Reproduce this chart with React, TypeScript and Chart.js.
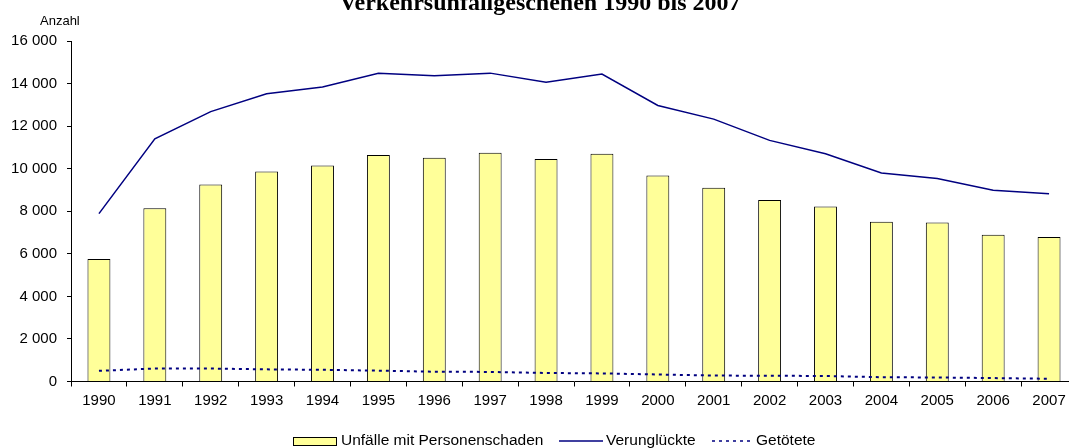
import React, { useEffect, useRef } from "react";
import { Chart, registerables } from "chart.js";

Chart.register(...registerables);

const years = ["1990", "1991", "1992", "1993", "1994", "1995", "1996", "1997", "1998", "1999", "2000", "2001", "2002", "2003", "2004", "2005", "2006", "2007"];
const unfaelle = [5760, 8140, 9260, 9870, 10150, 10640, 10510, 10750, 10460, 10700, 9680, 9100, 8530, 8220, 7510, 7470, 6900, 6790];
const verunglueckte = [7890, 11400, 12680, 13520, 13840, 14480, 14370, 14490, 14060, 14450, 12970, 12330, 11330, 10700, 9800, 9540, 8990, 8820];
const getoetete = [500, 610, 610, 570, 550, 510, 460, 450, 400, 380, 330, 280, 270, 260, 200, 190, 160, 130];

const titleText = "Verkehrsunfallgeschehen 1990 bis 2007";
const yAxisTitle = "Anzahl";
const legendLabels = ["Unfälle mit Personenschaden", "Verunglückte", "Getötete"];

const SANS = "'Liberation Sans', Arial, sans-serif";
const SERIF = "'Liberation Serif', 'Times New Roman', serif";

const fmt = (v: number) => String(v).replace(/\B(?=(\d{3})+(?!\d))/g, " ");

const textPlugin = {
  id: "extraText",
  afterDraw(chart: any) {
    const ctx = chart.ctx as CanvasRenderingContext2D;
    ctx.save();
    // Title (partly cut at top)
    ctx.fillStyle = "#000";
    ctx.font = `bold 24px ${SERIF}`;
    ctx.textAlign = "center";
    ctx.textBaseline = "alphabetic";
    ctx.fillText(titleText, 540, 10);
    // Axis title
    ctx.font = `13px ${SANS}`;
    ctx.textAlign = "left";
    ctx.textBaseline = "middle";
    ctx.fillText(yAxisTitle, 40, 21);
    // Legend
    const ly = 441;
    ctx.font = `15.5px ${SANS}`;
    ctx.textBaseline = "middle";
    // bar key
    ctx.fillStyle = "#FFFF99";
    ctx.fillRect(293.5, 437.5, 43, 8);
    ctx.strokeStyle = "#000";
    ctx.lineWidth = 1;
    ctx.strokeRect(293.5, 437.5, 43, 8);
    ctx.fillStyle = "#000";
    ctx.fillText(legendLabels[0], 341, ly);
    // line key
    ctx.strokeStyle = "#000080";
    ctx.lineWidth = 1.5;
    ctx.beginPath();
    ctx.moveTo(559, ly);
    ctx.lineTo(603, ly);
    ctx.stroke();
    ctx.fillText(legendLabels[1], 606, ly);
    // dotted key
    ctx.lineWidth = 1.5;
    ctx.setLineDash([3, 4]);
    ctx.beginPath();
    ctx.moveTo(712, ly);
    ctx.lineTo(753, ly);
    ctx.stroke();
    ctx.setLineDash([]);
    ctx.fillText(legendLabels[2], 756, ly);
    ctx.restore();
  },
};

export default function App() {
  const ref = useRef<HTMLCanvasElement>(null);
  useEffect(() => {
    const canvas = ref.current!;
    const chart = new Chart(canvas, {
      type: "bar",
      data: {
        labels: years,
        datasets: [
          {
            type: "line",
            label: legendLabels[1],
            data: verunglueckte,
            borderColor: "#000080",
            borderWidth: 1.5,
            pointRadius: 0,
            fill: false,
            tension: 0,
            order: 0,
          } as any,
          {
            type: "line",
            label: legendLabels[2],
            data: getoetete,
            borderColor: "#000080",
            borderWidth: 2,
            borderDash: [3, 4],
            pointRadius: 0,
            fill: false,
            tension: 0,
            order: 1,
          } as any,
          {
            type: "bar",
            label: legendLabels[0],
            data: unfaelle,
            backgroundColor: "#FFFF99",
            borderColor: "#000",
            borderWidth: 1,
            barPercentage: 0.41,
            categoryPercentage: 1,
            order: 2,
          } as any,
        ],
      },
      options: {
        responsive: false,
        animation: false,
        devicePixelRatio: 1,
        layout: { padding: { top: 41, right: 13, bottom: 0, left: 0 } },
        plugins: {
          legend: { display: false },
          title: { display: false },
          tooltip: { enabled: false },
        },
        scales: {
          x: {
            grid: { display: true, drawOnChartArea: false, drawTicks: true, tickLength: 5, color: "#000", offset: true },
            border: { color: "#000", width: 1 },
            ticks: { color: "#000", font: { family: SANS, size: 15 }, padding: 5, maxRotation: 0, autoSkip: false },
            afterFit: (s: any) => {
              s.height = 66.5;
            },
          },
          y: {
            min: 0,
            max: 16000,
            ticks: {
              stepSize: 2000,
              color: "#000",
              font: { family: SANS, size: 15 },
              padding: 10,
              callback: (v: any) => fmt(Number(v)),
            },
            grid: { drawOnChartArea: false, drawTicks: true, tickLength: 4, color: "#000" },
            border: { color: "#000", width: 1 },
            afterFit: (s: any) => {
              s.width = 71;
            },
          },
        },
      } as any,
      plugins: [textPlugin],
    });
    return () => chart.destroy();
  }, []);
  return (
    <div style={{ position: "fixed", left: 0, top: 0, width: 1069, height: 448, overflow: "hidden", background: "#fff" }}>
      <canvas ref={ref} width={1090} height={448} style={{ position: "absolute", left: 0, top: 0, width: 1090, height: 448 }} />
    </div>
  );
}
